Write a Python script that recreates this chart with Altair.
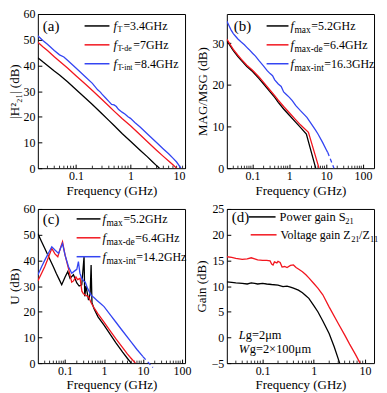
import altair as alt
import pandas as pd

FONT = "Liberation Serif"
BLACK, RED, BLUE = "#000000", "#f2161f", "#3445f2"
W, H = 148, 155

# ---------------- panel (a) |H21|^2 ----------------
A_F_BLACK = [0.02, 0.025, 0.03, 0.04, 0.05, 0.07, 0.1, 0.15, 0.2, 0.3, 0.4, 0.5, 0.7, 1, 1.5, 2, 2.5, 3, 3.4]
A_V_BLACK = [43, 41.3, 40, 37.8, 36.3, 33.6, 30.6, 27.2, 24.8, 21.2, 18.6, 16.6, 13.5, 10.5, 7, 4.6, 2.6, 1.0, 0]
A_F_RED = [0.02, 0.025, 0.03, 0.04, 0.05, 0.07, 0.1, 0.15, 0.2, 0.3, 0.4, 0.5, 0.7, 1, 1.5, 2, 3, 4, 5, 6, 7]
A_V_RED = [49, 47.2, 45.8, 43.4, 41.6, 39, 36, 32.7, 30.2, 26.7, 24.2, 22.2, 19.3, 16.5, 13, 10.5, 7, 4.6, 2.8, 1.3, 0]
A_F_BLUE = [0.02, 0.025, 0.03, 0.04, 0.05, 0.06, 0.07, 0.1, 0.15, 0.2, 0.25, 0.28, 0.3, 0.35, 0.4, 0.45,
            0.5, 0.55, 0.6, 0.7, 0.8, 0.9, 1, 1.2, 1.5, 2, 3, 4, 5, 6, 7, 8.4]
A_V_BLUE = [51.5, 49.6, 48.2, 45.8, 44.1, 43.3, 42, 39, 35.5, 33, 30.5, 29.6, 28.8, 27.3, 26, 24.8,
            24.6, 24, 22.9, 21.8, 21, 20, 19.4, 17.8, 16, 13.5, 10, 7.5, 5.6, 3.9, 2.4, 0]
A_LEG_SUB = ["T", "T-de", "T-int"]
A_LEG_VAL = ["=3.4GHz", "=7GHz", "=8.4GHz"]

# ---------------- panel (b) MAG/MSG ----------------
B_F_BLACK = [0.02, 0.025, 0.03, 0.04, 0.05, 0.07, 0.1, 0.15, 0.2, 0.3, 0.4, 0.5, 0.7, 1, 1.5, 2, 2.9, 5.2]
B_V_BLACK = [30.6, 29.3, 28.2, 26.8, 25.8, 24.4, 23.2, 21.5, 20.2, 18.3, 17.0, 15.8, 14.2, 12.7, 11, 9.8, 8.2, 0]
B_F_RED = [0.02, 0.025, 0.03, 0.04, 0.05, 0.07, 0.1, 0.15, 0.2, 0.3, 0.4, 0.5, 0.7, 1, 1.5, 2, 3.3, 6.4]
B_V_RED = [31, 29.6, 28.5, 27.1, 26.1, 24.7, 23.5, 21.9, 20.6, 18.7, 17.4, 16.3, 14.8, 13.3, 11.6, 10.4, 8.6, 0]
B_F_BLUE = [0.02, 0.023, 0.026, 0.03, 0.035, 0.04, 0.05, 0.06, 0.07, 0.08, 0.1, 0.12, 0.15, 0.2, 0.25, 0.3,
            0.35, 0.4, 0.5, 0.6, 0.7, 0.8, 1, 1.2, 1.5, 2, 3, 4, 5, 6, 8, 10, 11]
B_V_BLUE = [35.3, 34.2, 33.2, 32.3, 31.6, 31.0, 30.2, 29.6, 29.0, 28.5, 27.6, 26.9, 25.8, 24.5, 23.4, 22.7,
            22.2, 21.2, 20.2, 19.6, 18.3, 17.8, 17.0, 16.2, 15.0, 13.8, 12.2, 10.6, 9.3, 8.2, 6.2, 4.5, 3.8]
B_F_EXT = [11, 16.3]
B_V_EXT = [3.8, 0]
B_LEG_SUB = ["max", "max-de", "max-int"]
B_LEG_VAL = ["=5.2GHz", "=6.4GHz", "=16.3GHz"]

# ---------------- panel (c) U ----------------
C_F_BLACK = [0.02, 0.025, 0.03, 0.04, 0.05, 0.06, 0.07, 0.082, 0.1, 0.117, 0.134, 0.164, 0.2, 0.23, 0.268,
             0.307, 0.32, 0.345, 0.4, 0.44, 0.466, 0.49, 0.55, 0.7, 1, 1.5, 2, 3, 4, 5]
C_V_BLACK = [50.4, 47.2, 44.7, 40.6, 37.5, 34.8, 32.7, 30.5, 33.5, 35.6, 33, 34.4, 31.2, 30, 30.5,
             41.4, 26, 30, 24.5, 27, 38.2, 23.5, 21.3, 18, 14.8, 10.8, 8, 4.3, 1.8, 0]
C_F_RED = [0.02, 0.025, 0.03, 0.035, 0.0456, 0.055, 0.065, 0.075, 0.086, 0.1, 0.122, 0.148, 0.164, 0.19,
           0.21, 0.243, 0.27, 0.296, 0.33, 0.4, 0.466, 0.55, 0.7, 1, 1.5, 2, 3, 4, 5, 6.4]
C_V_RED = [32, 35, 37.5, 40, 44.6, 42.5, 41.4, 44.5, 47.2, 42, 36.9, 31.5, 32, 33.5,
           32.5, 33, 28, 27, 26.5, 25.8, 23.5, 21.6, 19.2, 16, 12.2, 9.5, 6, 3.5, 1.8, 0]
C_F_BLUE = [0.02, 0.025, 0.03, 0.035, 0.0456, 0.055, 0.068, 0.078, 0.086, 0.1, 0.122, 0.148, 0.18, 0.2,
            0.22, 0.24, 0.268, 0.3, 0.33, 0.38, 0.43, 0.48, 0.55, 0.65, 0.8, 1, 1.5, 2, 3, 5, 7, 10]
C_V_BLUE = [34.3, 37.5, 40, 42, 45.3, 44, 42.7, 45, 46.5, 42, 37.6, 35, 36, 36.5,
            39.5, 35, 33, 32, 31.5, 29, 27.5, 26.2, 25.5, 24.5, 23.3, 22, 18.5, 16, 12.5, 8.2, 5.3, 2.5]
C_F_EXT = [10, 14.2, 18]
C_V_EXT = [2.5, 0, -1.7]
C_LEG_SUB = ["max", "max-de", "max-int"]
C_LEG_VAL = ["=5.2GHz", "=6.4GHz", "=14.2GHz"]

# ---------------- panel (d) Gain ----------------
D_F_BLACK = [0.02, 0.025, 0.03, 0.04, 0.05, 0.06, 0.07, 0.08, 0.1, 0.12, 0.15, 0.2, 0.25, 0.3, 0.35, 0.4,
             0.5, 0.6, 0.7, 0.8, 1, 1.2, 1.5, 2, 2.5, 3.2]
D_V_BLACK = [10.8, 10.7, 10.6, 10.5, 10.4, 10.6, 10.5, 10.4, 10.5, 10.4, 10.3, 10.2, 9.9, 10.0, 9.8, 9.6,
             9.2, 8.7, 8.1, 7.6, 6.2, 5.0, 3.2, 0.7, -1.8, -5]
D_F_RED = [0.02, 0.025, 0.03, 0.04, 0.05, 0.06, 0.07, 0.08, 0.1, 0.12, 0.14, 0.15, 0.16, 0.17, 0.19, 0.2,
           0.22, 0.24, 0.27, 0.3, 0.35, 0.4, 0.45, 0.5, 0.6, 0.7, 0.8, 1, 1.2, 1.5, 2, 3, 4, 5, 6.5, 8]
D_V_RED = [15.7, 15.6, 15.4, 15.2, 15.3, 15.5, 15.3, 15.1, 15.0, 15.0, 14.9, 14.3, 14.1, 14.7, 14.5, 14.8,
           14.6, 13.7, 13.8, 13.6, 14.0, 14.1, 13.6, 13.3, 12.8, 12.2, 11.6, 10.5, 9.6, 8.3, 5.9, 2.7, 0.5, -1.3, -3.3, -5]
D_LEG = ["Power gain S", "Voltage gain Z", "/Z"]
D_SUB = ["21", "21", "11"]
D_NOTE = ["L", "g=2\u03bcm", "W", "g=2\u00d7100\u03bcm"]

PANEL_LABELS = ["(a)", "(b)", "(c)", "(d)"]
Y_TITLES = ["|H\u00b2\u2082\u2081| (dB)", "MAG/MSG (dB)", "U (dB)", "Gain (dB)"]
X_TITLE = "Frequency (GHz)"
MINOR = [0.03, 0.04, 0.05, 0.06, 0.07, 0.08, 0.09, 0.2, 0.3, 0.4, 0.5, 0.6, 0.7, 0.8, 0.9,
         2, 3, 4, 5, 6, 7, 8, 9, 20, 30, 40, 50, 60, 70, 80, 90]

ONE = pd.DataFrame({"k": [0]})

AX_STYLE = dict(labelFont=FONT, titleFont=FONT, labelFontSize=12, titleFontSize=13,
                titleFontWeight=400, labelColor="black", titleColor="black",
                tickColor="black", tickWidth=1, grid=False, domain=False,
                tickSize=alt.ExprRef(expr="-4"))


def txt(s, x, y, size=12, style="normal"):
    return alt.Chart(ONE).mark_text(text=s, font=FONT, fontSize=size, fontStyle=style, align="left",
                                    baseline="middle", color="black").encode(x=alt.value(x), y=alt.value(y))


def seg(x1, x2, y, color):
    return alt.Chart(ONE).mark_rule(color=color, strokeWidth=1.5).encode(
        x=alt.value(x1), x2=alt.value(x2), y=alt.value(y))


def series_df(pairs):
    rows = []
    for name, fs, vs in pairs:
        for f, v in zip(fs, vs):
            rows.append({"s": name, "f": f, "v": v})
    return pd.DataFrame(rows)


def panel(pairs, colors, xdom, xvals, ydom, yvals, ytitle, extra, dashed=None, ytp=3):
    xax = alt.Axis(title=X_TITLE, values=xvals, format="~g", labelPadding=6, titlePadding=3, **AX_STYLE)
    xenc = alt.X("f:Q", scale=alt.Scale(type="log", domain=xdom), axis=xax)
    yax = alt.Axis(title=ytitle, values=yvals, labelPadding=7, titlePadding=ytp, **AX_STYLE)
    yenc = alt.Y("v:Q", scale=alt.Scale(domain=ydom, nice=False, zero=False), axis=yax)
    names = [p[0] for p in pairs]
    lines = alt.Chart(series_df(pairs)).mark_line(strokeWidth=1.3, clip=True).encode(
        x=xenc, y=yenc,
        color=alt.Color("s:N", scale=alt.Scale(domain=names, range=colors), legend=None))
    mins = [m for m in MINOR if xdom[0] < m < xdom[1]]
    minor = alt.Chart(pd.DataFrame({"f": mins})).mark_rule(color="black", strokeWidth=0.8).encode(
        x=xenc, y=alt.value(H), y2=alt.value(H - 2.5))
    layers = [minor, lines]
    if dashed is not None:
        layers.append(alt.Chart(pd.DataFrame({"f": dashed[0], "v": dashed[1]})).mark_line(
            color=BLUE, strokeDash=[4, 3], strokeWidth=1.3).encode(x=xenc, y=yenc))
    layers += extra
    return alt.layer(*layers).properties(
        width=W, height=H, view=alt.ViewBackground(stroke="black", strokeWidth=1, fill="white"))


def f_legend(subs, vals, colors, lx1, lx2, fx, subx, valx, rows, subsize):
    out = []
    for i in range(3):
        y = rows[i]
        out.append(seg(lx1, lx2, y, colors[i]))
        out.append(txt("f", fx, y, 12.5, "italic"))
        out.append(txt(subs[i], subx, y + 4, subsize))
        out.append(txt(vals[i], valx[i], y, 12))
    return out


COLS = [BLACK, RED, BLUE]

pa = panel(
    [("black", A_F_BLACK, A_V_BLACK), ("red", A_F_RED, A_V_RED), ("blue", A_F_BLUE, A_V_BLUE)], COLS,
    [0.02, 10], [0.1, 1, 10], [0, 60], [0, 10, 20, 30, 40, 50, 60], Y_TITLES[0],
    [txt(PANEL_LABELS[0], 5, 12, 15)] +
    f_legend(A_LEG_SUB, A_LEG_VAL, COLS, 47, 72, 76, 80, [86, 96, 97], [12, 31, 50], 8), ytp=1)

pb = panel(
    [("black", B_F_BLACK, B_V_BLACK), ("red", B_F_RED, B_V_RED), ("blue", B_F_BLUE, B_V_BLUE)], COLS,
    [0.02, 200], [0.1, 1, 10, 100], [0, 37], [0, 10, 20, 30], Y_TITLES[1],
    [txt(PANEL_LABELS[1], 7, 12, 15)] +
    f_legend(B_LEG_SUB, B_LEG_VAL, COLS, 40, 62, 64, 68, [85, 97, 98], [12, 31, 50], 9.5),
    dashed=(B_F_EXT, B_V_EXT), ytp=2)

pc = panel(
    [("black", C_F_BLACK, C_V_BLACK), ("red", C_F_RED, C_V_RED), ("blue", C_F_BLUE, C_V_BLUE)], COLS,
    [0.02, 120], [0.1, 1, 10, 100], [0, 60], [0, 10, 20, 30, 40, 50, 60], Y_TITLES[2],
    [txt(PANEL_LABELS[2], 5, 10, 15)] +
    f_legend(C_LEG_SUB, C_LEG_VAL, COLS, 39, 63, 65, 69, [86, 98, 99], [10, 29, 48], 9.5),
    dashed=(C_F_EXT, C_V_EXT), ytp=1)

pd_extra = [
    txt(PANEL_LABELS[3], 5, 8, 15),
    seg(22, 49, 8, BLACK),
    txt(D_LEG[0], 53, 8, 12.5), txt(D_SUB[0], 119, 12, 8.5),
    seg(24, 50, 26, RED),
    txt(D_LEG[1], 54, 26, 12), txt(D_SUB[1], 125, 30, 8.5),
    txt(D_LEG[2], 133, 26, 12), txt(D_SUB[2], 144, 30, 8.5),
    txt(D_NOTE[0], 12, 127, 12.5, "italic"), txt(D_NOTE[1], 19, 127, 12.5),
    txt(D_NOTE[2], 12, 141, 12.5, "italic"), txt(D_NOTE[3], 23, 141, 12.5),
]
pdd = panel(
    [("black", D_F_BLACK, D_V_BLACK), ("red", D_F_RED, D_V_RED)], [BLACK, RED],
    [0.02, 15], [0.1, 1, 10], [-5, 25], [-5, 0, 5, 10, 15, 20, 25], Y_TITLES[3], pd_extra, ytp=3)

chart = alt.concat(pa, pb, pc, pdd, columns=2, spacing={"row": 41, "column": 42}, bounds="flush").properties(
    padding={"left": 0, "top": -2, "right": 0, "bottom": 0}
).configure_view(stroke="black", strokeWidth=1).configure_axis(
    labelFont=FONT, titleFont=FONT, labelFontSize=12, titleFontSize=13, titleFontWeight=400,
    labelColor="black", titleColor="black", tickColor="black", tickWidth=1)

chart.save("out.html", embed_options={"renderer": "svg", "actions": False})
